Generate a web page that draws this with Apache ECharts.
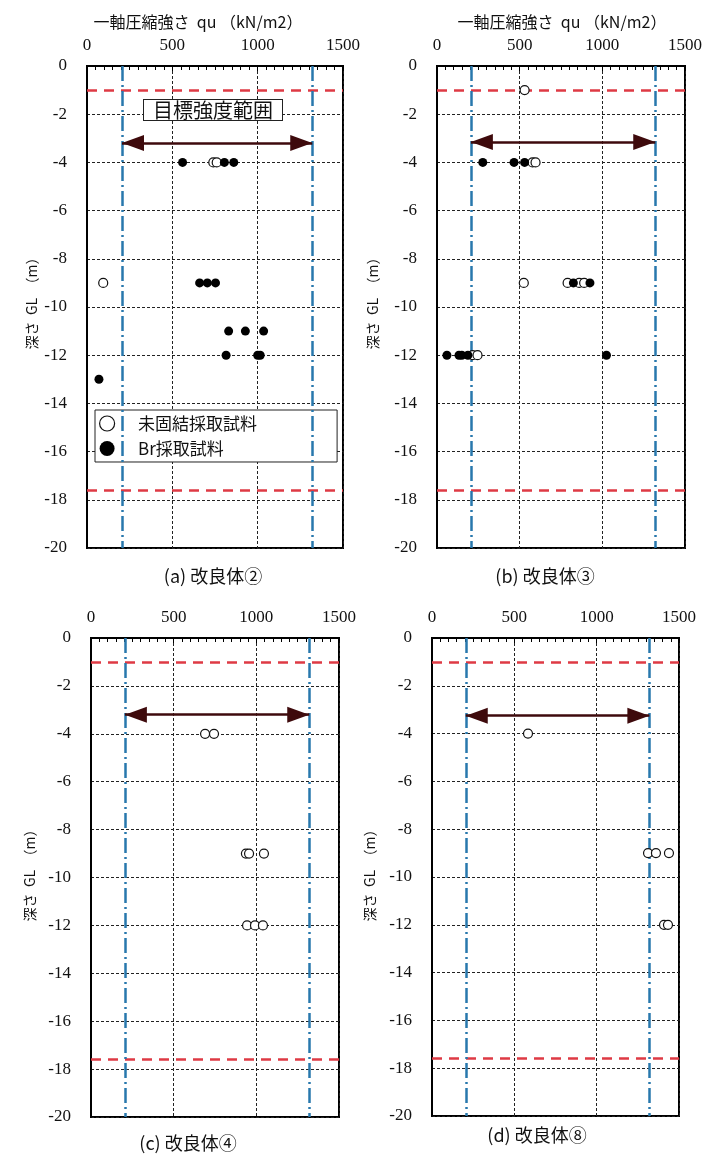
<!DOCTYPE html>
<html>
<head>
<meta charset="utf-8">
<script src="https://cdn.jsdelivr.net/npm/echarts@6/dist/echarts.min.js"></script>
<style>
html,body{margin:0;padding:0;background:#fff;}
#chart{width:705px;height:1158px;}
</style>
</head>
<body>
<div id="chart"></div>
<script>
// ---- data ----
const xTickLabels = ['0', '500', '1000', '1500'];
const yTickLabels = ['0','-2','-4','-6','-8','-10','-12','-14','-16','-18','-20'];
const panelCaptions = ['(a) 改良体②', '(b) 改良体③', '(c) 改良体④', '(d) 改良体⑧'];
const xAxisTitle = '一軸圧縮強さ  qu （kN/m2）';
const yAxisTitle = '深さ  GL  （m）';
const seriesNames = ['未固結採取試料', 'Br採取試料'];
const rangeLabel = '目標強度範囲';

// target strength range (kN/m2)
const targetRange = [205, 1320];
// improved body top / bottom depth (m)
const bodyDepths = [-1, -17.6];
// depth of the range arrow in each panel
const arrowDepth = [-3.2, -3.15, -3.2, -3.25];

// [qu, depth]
const openA = [[740,-4],[760,-4],[95,-9]];
const filledA = [[560,-4],[805,-4],[860,-4],[660,-9],[705,-9],[753,-9],[830,-11],[928,-11],[1035,-11],[815,-12],[1000,-12],[1015,-12],[70,-13]];
const openB = [[530,-1],[578,-4],[596,-4],[525,-9],[790,-9],[860,-9],[890,-9],[215,-12],[245,-12]];
const filledB = [[277,-4],[466,-4],[530,-4],[825,-9],[925,-9],[60,-12],[133,-12],[150,-12],[187,-12],[1025,-12]];
const openC = [[690,-4],[744,-4],[937,-9],[956,-9],[1046,-9],[944,-12],[992,-12],[1040,-12]];
const filledC = [];
const openD = [[583,-4],[1312,-9],[1360,-9],[1439,-9],[1409,-12],[1433,-12]];
const filledD = [];

const openData = [openA, openB, openC, openD];
const filledData = [filledA, filledB, filledC, filledD];

// ---- layout ----
const grids = [
  {left: 87, top: 66, width: 256, height: 482},
  {left: 437, top: 66, width: 249, height: 482},
  {left: 91, top: 638, width: 248, height: 479},
  {left: 432, top: 638, width: 247, height: 478}
];
const captionPos = [[213, 576], [545, 576], [188, 1143], [537, 1135]];
const yNamePos = [[32, 300], [373, 300], [30, 872], [370, 872]];
const xNamePos = [[198, 22], [562, 22]];

const serif = 'Liberation Serif';
const cjk = 'Noto Sans CJK JP';

const chart = echarts.init(document.getElementById('chart'), null, {renderer: 'canvas'});

const xAxes = [], yAxes = [], series = [];
grids.forEach((g, i) => {
  xAxes.push({
    gridIndex: i, type: 'value', min: 0, max: 1500, interval: 500, position: 'top',
    axisLine: {show: true, onZero: false, lineStyle: {color: '#000', width: 2}},
    axisTick: {show: true, inside: true, length: 5, lineStyle: {color: '#000', width: 1}},
    minorTick: {show: true, splitNumber: 10, length: 4, lineStyle: {color: '#000', width: 1}},
    axisLabel: {fontFamily: serif, fontSize: 17, color: '#111', margin: 12,
      formatter: v => xTickLabels[Math.round(v / 500)]},
    splitLine: {show: true, lineStyle: {color: '#222', width: 1, type: [3, 2]}}
  });
  yAxes.push({
    gridIndex: i, type: 'value', min: -20, max: 0, interval: 2,
    axisLine: {show: true, onZero: false, lineStyle: {color: '#000', width: 2}},
    axisTick: {show: false},
    axisLabel: {fontFamily: serif, fontSize: 17, color: '#111', margin: 20,
      formatter: v => yTickLabels[Math.round(-v / 2)]},
    splitLine: {show: true, lineStyle: {color: '#222', width: 1, type: [3, 2]}}
  });
  const ad = arrowDepth[i];
  series.push({
    name: seriesNames[0], type: 'scatter', xAxisIndex: i, yAxisIndex: i,
    data: openData[i], symbol: 'circle', symbolSize: 9, z: 5,
    itemStyle: {color: '#fff', borderColor: '#111', borderWidth: 1.2, opacity: 1},
    markLine: {
      silent: true, animation: false, symbol: 'none',
      label: {show: false},
      data: [
        [{coord: [0, bodyDepths[0]]}, {coord: [1500, bodyDepths[0]]}],
        [{coord: [0, bodyDepths[1]]}, {coord: [1500, bodyDepths[1]]}],
        [{coord: [targetRange[0], 0]}, {coord: [targetRange[0], -20]}],
        [{coord: [targetRange[1], 0]}, {coord: [targetRange[1], -20]}],
        [{coord: [targetRange[0], ad], symbol: 'triangle', symbolSize: [16, 22], symbolOffset: [0, 11],
          lineStyle: {color: '#3e0a0c', width: 2.5, type: 'solid'}},
         {coord: [targetRange[1], ad], symbol: 'triangle', symbolSize: [16, 22], symbolOffset: [0, 11]}]
      ].map((d, k) => {
        if (k < 2) d[0].lineStyle = {color: '#de3a44', width: 2.5, type: [10, 7]};
        else if (k < 4) d[0].lineStyle = {color: '#2878ad', width: 2.5, type: [15, 4, 2, 4]};
        return d;
      })
    }
  });
  series.push({
    name: seriesNames[1], type: 'scatter', xAxisIndex: i, yAxisIndex: i,
    data: filledData[i], symbol: 'circle', symbolSize: 9, z: 6,
    itemStyle: {color: '#000', opacity: 1}
  });
});

const graphics = [];
panelCaptions.forEach((t, i) => {
  graphics.push({type: 'text', x: captionPos[i][0], y: captionPos[i][1],
    style: {text: t, fontFamily: cjk, fontSize: 18, fill: '#111', textAlign: 'center', textVerticalAlign: 'middle'}});
  graphics.push({type: 'text', x: yNamePos[i][0], y: yNamePos[i][1], rotation: Math.PI / 2,
    style: {text: yAxisTitle, fontFamily: cjk, fontSize: 14, fill: '#111', textAlign: 'center', textVerticalAlign: 'middle'}});
});
xNamePos.forEach(p => {
  graphics.push({type: 'text', x: p[0], y: p[1],
    style: {text: xAxisTitle, fontFamily: cjk, fontSize: 16, fill: '#111', textAlign: 'center', textVerticalAlign: 'middle'}});
});
graphics.push({type: 'text', x: 213, y: 110, z: 10,
  style: {text: rangeLabel, fontFamily: cjk, fontSize: 20, fill: '#111', textAlign: 'center', textVerticalAlign: 'middle',
    backgroundColor: '#fff', borderColor: '#222', borderWidth: 1, padding: [0, 9]}});

chart.setOption({
  animation: false,
  backgroundColor: '#fff',
  grid: grids.map(g => Object.assign({show: true, borderColor: '#000', borderWidth: 2, backgroundColor: '#fff'}, g)),
  xAxis: xAxes,
  yAxis: yAxes,
  legend: {
    show: true, orient: 'vertical', left: 95, top: 410,
    padding: [5, 80, 5, 4], itemGap: 8, itemWidth: 32, itemHeight: 15,
    backgroundColor: '#fff', borderColor: '#222', borderWidth: 1,
    textStyle: {fontFamily: cjk, fontSize: 17, color: '#111', padding: [0, 0, 0, 10]},
    data: [
      {name: seriesNames[0], icon: 'circle', itemStyle: {color: '#fff', borderColor: '#111', borderWidth: 1.2}},
      {name: seriesNames[1], icon: 'circle', itemStyle: {color: '#000'}}
    ],
    selectedMode: false
  },
  graphic: graphics,
  series: series
});
</script>
</body>
</html>
